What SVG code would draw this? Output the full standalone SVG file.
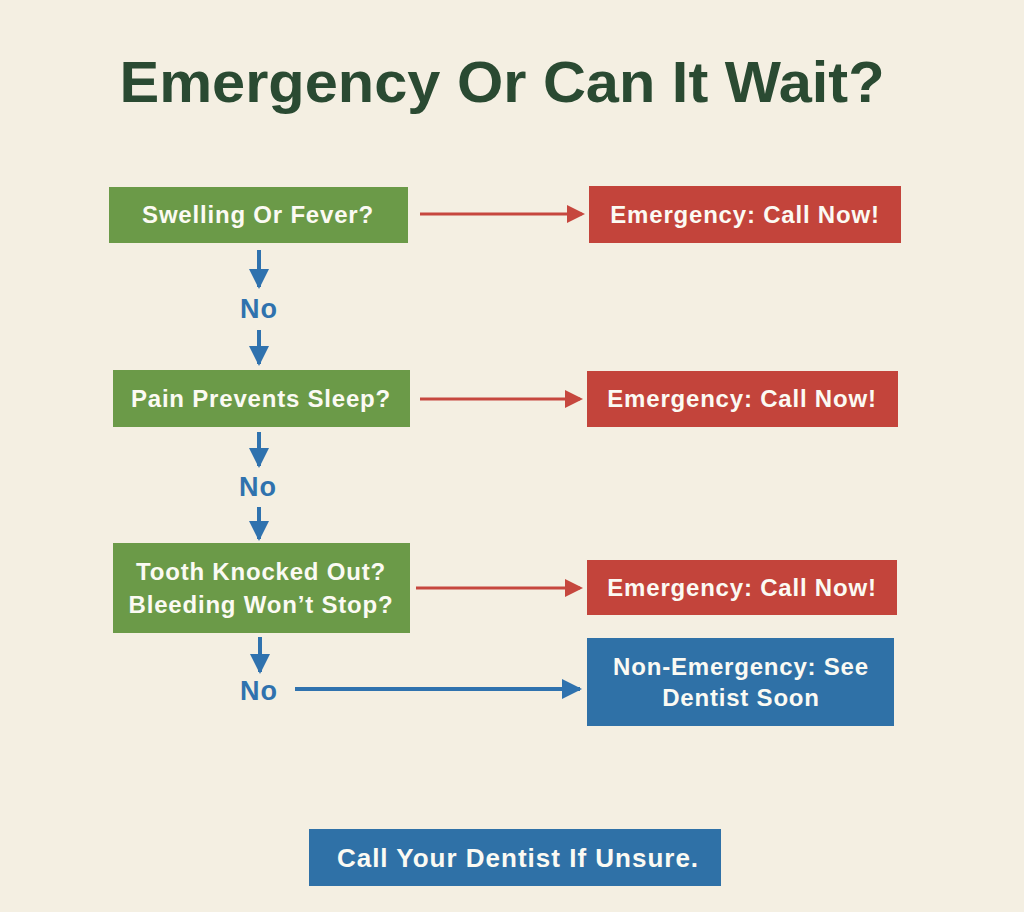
<svg xmlns="http://www.w3.org/2000/svg" width="1024" height="912" viewBox="0 0 1024 912">
<style>
.bt{font-family:"Liberation Sans",Arial,sans-serif;font-weight:bold;font-size:24px;letter-spacing:0.8px;fill:#fbfaf3;text-anchor:middle}
.no{font-family:"Liberation Sans",Arial,sans-serif;font-weight:bold;font-size:27px;letter-spacing:1px;fill:#2f72ae;text-anchor:middle}
.g{fill:#6b9a48}
.r{fill:#c3443b}
.b{fill:#2f71a7}
.ra{stroke:#c6473e;stroke-width:3;fill:none}
.ba{stroke:#2f72ae;stroke-width:4;fill:none}
</style>
<defs>
<marker id="mr" markerWidth="6" markerHeight="6" refX="5" refY="3" orient="auto" markerUnits="strokeWidth"><path d="M0,0 L6,3 L0,6 z" fill="#c6473e"/></marker>
<marker id="mb" markerWidth="5.5" markerHeight="5" refX="4.5" refY="2.5" orient="auto" markerUnits="strokeWidth"><path d="M0,0 L5,2.5 L0,5 z" fill="#2f72ae"/></marker>
</defs>
<rect width="1024" height="912" fill="#f4efe2"/>
<text x="502" y="102" font-family="Liberation Sans,Arial,sans-serif" font-weight="bold" font-size="58" fill="#2a4a32" text-anchor="middle" textLength="765" lengthAdjust="spacingAndGlyphs">Emergency Or Can It Wait?</text>

<g id="connectors">
<line class="ra" x1="420" y1="214" x2="582" y2="214" marker-end="url(#mr)"/>
<line class="ra" x1="420" y1="399" x2="580" y2="399" marker-end="url(#mr)"/>
<line class="ra" x1="416" y1="588" x2="580" y2="588" marker-end="url(#mr)"/>
<line class="ba" x1="295" y1="689" x2="580" y2="689" marker-end="url(#mb)"/>
<line class="ba" x1="259" y1="250" x2="259" y2="287" marker-end="url(#mb)"/>
<line class="ba" x1="259" y1="330" x2="259" y2="364" marker-end="url(#mb)"/>
<line class="ba" x1="259" y1="432" x2="259" y2="466" marker-end="url(#mb)"/>
<line class="ba" x1="259" y1="507" x2="259" y2="539" marker-end="url(#mb)"/>
<line class="ba" x1="260" y1="637" x2="260" y2="672" marker-end="url(#mb)"/>
<text class="no" x="259" y="318">No</text>
<text class="no" x="258" y="496">No</text>
<text class="no" x="259" y="700">No</text>
</g>

<g id="q1"><rect class="g" x="109" y="187" width="299" height="56"/><text class="bt" x="258" y="223">Swelling Or Fever?</text></g>
<g id="e1"><rect class="r" x="589" y="186" width="312" height="57"/><text class="bt" x="745" y="223">Emergency: Call Now!</text></g>
<g id="q2"><rect class="g" x="113" y="370" width="297" height="57"/><text class="bt" x="261" y="407">Pain Prevents Sleep?</text></g>
<g id="e2"><rect class="r" x="587" y="371" width="311" height="56"/><text class="bt" x="742" y="407">Emergency: Call Now!</text></g>
<g id="q3"><rect class="g" x="113" y="543" width="297" height="90"/><text class="bt" x="261" y="580">Tooth Knocked Out?</text><text class="bt" x="261" y="613">Bleeding Won’t Stop?</text></g>
<g id="e3"><rect class="r" x="587" y="560" width="310" height="55"/><text class="bt" x="742" y="596">Emergency: Call Now!</text></g>
<g id="n1"><rect class="b" x="587" y="638" width="307" height="88"/><text class="bt" x="741" y="675">Non-Emergency: See</text><text class="bt" x="741" y="706">Dentist Soon</text></g>
<g id="footer"><rect class="b" x="309" y="829" width="412" height="57"/><text class="bt" x="518" y="867" style="font-size:26px;letter-spacing:1px">Call Your Dentist If Unsure.</text></g>
</svg>
